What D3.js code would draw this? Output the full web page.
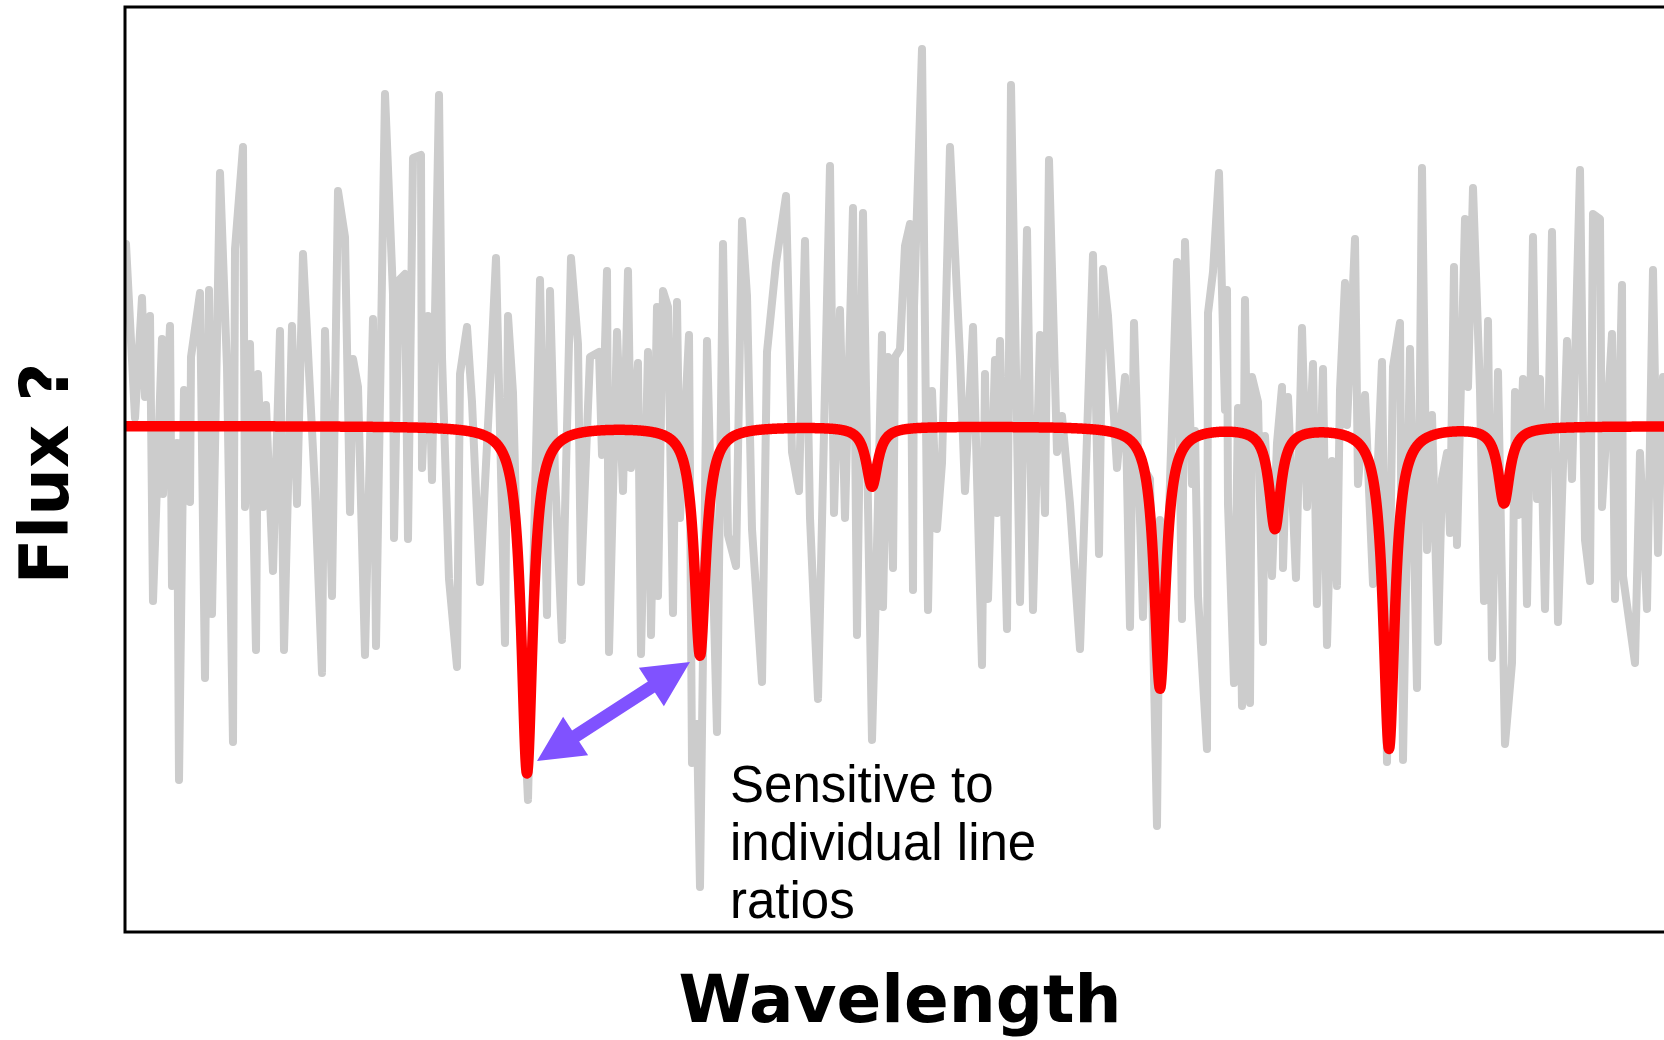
<!DOCTYPE html>
<html>
<head>
<meta charset="utf-8">
<script src="https://cdn.jsdelivr.net/npm/d3@7"></script>
<style>
  body { margin: 0; background: #fff; }
  svg { display: block; }
</style>
</head>
<body>
<div id="main"></div>
<script>
const ctx = {
    WIDTH: 1664,
    HEIGHT: 1040,
    LEFT: 125,
    TOP: 7,
    RIGHT: 1675,   // frame runs off the right edge of the picture
    BOTTOM: 932,
};

// observed (noisy) spectrum: wavelength in nm, normalised flux
const obsWave = [
    500.1,501.0,501.7,502.0,502.5,502.8,503.7,503.8,504.5,504.7,505.2,505.4,505.9,506.5,506.6,507.5,508.0,508.4,508.7,509.5,
    510.2,510.8,511.0,511.8,512.0,512.5,513.1,513.3,513.8,514.1,514.8,515.5,515.9,516.7,517.2,517.8,519.0,519.7,520.0,520.7,
    521.3,522.0,522.5,522.8,523.3,524.0,
    524.8,525.1,526.0,526.8,526.9,527.4,528.0,528.3,528.8,529.6,529.7,530.3,530.7,531.4,531.7,532.4,533.2,533.5,534.2,534.7,
    535.5,536.6,537.1,538.0,538.3,538.8,539.3,540.3,541.5,542.2,542.5,543.0,543.7,544.6,545.3,545.6,546.5,547.4,547.7,548.2,
    548.4,
    549.2,549.8,550.3,550.6,551.3,551.6,552.3,552.6,553.2,553.3,553.8,554.3,554.8,555.2,555.5,556.4,556.7,557.2,557.5,558.2,
    559.2,559.8,560.3,561.1,561.7,562.2,562.7,563.7,564.2,565.1,566.1,566.7,567.4,568.0,568.5,569.3,570.5,570.9,571.5,572.0,
    572.8,573.2,
    573.8,574.7,575.0,575.7,575.8,576.3,576.8,577.0,577.5,578.0,578.5,578.8,578.9,579.7,580.3,580.7,581.2,581.7,582.5,583.5,
    584.0,584.8,585.7,586.0,586.3,587.0,587.2,587.5,588.2,588.6,589.5,590.2,590.8,591.5,592.0,592.4,593.2,593.7,594.5,595.5,
    596.8,597.4,597.8,598.3,599.2,
    600.0,600.5,600.9,601.8,602.2,602.5,603.2,603.5,604.2,605.2,605.7,606.0,606.7,607.0,607.3,608.2,608.3,608.8,609.4,610.0,
    610.2,610.3,610.9,611.3,611.7,612.0,612.5,612.7,613.3,613.8,614.0,614.7,615.2,615.7,615.8,616.3,617.1,617.7,618.2,618.8,
    619.2,619.8,620.2,620.7,621.2,621.5,622.0,622.2,623.0,623.3,624.0,624.8,625.7,
    626.2,626.8,627.5,627.8,628.5,629.2,629.7,630.2,630.7,631.3,631.7,632.2,632.5,632.9,633.2,634.0,634.3,634.8,635.5,635.9,
    636.3,636.7,637.3,638.0,638.7,639.0,639.3,639.8,640.2,640.8,641.2,641.5,642.0,642.7,643.3,644.2,644.7,645.5,646.0,646.5,
    646.8,647.5,647.7,648.7,649.0,649.7,649.8,651.0,651.5,652.2,652.8,653.3,653.8,654.7
];
const obsFlux = [
    1.364,1.016,1.256,1.058,1.220,0.650,1.174,0.864,1.200,0.680,0.966,0.292,1.072,0.848,1.138,1.266,0.496,1.272,0.624,1.506,
    1.118,0.368,1.354,1.558,0.838,1.164,0.552,1.104,0.838,1.042,0.710,1.190,0.552,1.200,0.844,1.344,0.874,0.506,1.190,0.660,
    1.470,1.378,0.828,1.134,1.078,0.542,
    1.214,0.560,1.664,1.264,0.776,1.292,1.304,0.774,1.536,1.542,0.916,1.220,0.892,1.662,1.138,0.694,0.518,1.104,1.198,1.048,
    0.688,1.120,1.336,0.566,1.220,1.066,0.682,0.252,1.292,0.622,1.270,0.904,0.572,1.336,1.164,0.688,1.138,1.148,0.942,1.310,
    0.548,
    1.188,0.870,1.310,0.916,1.126,0.544,1.148,0.582,1.238,0.660,1.270,1.238,0.626,1.248,0.816,1.182,0.326,0.404,0.078,1.170,
    0.388,1.364,0.782,0.720,1.410,1.260,0.794,0.488,1.148,1.326,1.460,0.948,0.870,1.370,0.816,0.454,1.520,0.826,1.232,0.816,
    1.436,0.582,
    1.426,0.372,0.594,1.182,0.638,1.138,0.716,1.138,1.154,1.360,1.404,0.672,1.238,1.754,0.632,1.070,0.794,0.926,1.558,1.138,
    0.870,1.198,0.522,1.104,0.654,1.132,0.826,1.170,0.594,1.682,0.648,1.392,0.632,1.182,0.826,1.532,0.948,1.020,0.844,0.554,
    1.342,0.744,1.314,1.220,0.916,
    1.098,0.598,1.206,0.618,0.904,0.894,0.200,0.812,0.700,1.328,0.614,1.368,0.884,0.990,0.660,0.354,1.226,1.308,1.506,1.032,
    1.272,0.844,0.486,1.036,0.440,1.252,0.446,1.098,1.048,0.568,0.980,0.700,0.966,1.078,0.716,1.058,0.696,1.196,0.838,1.124,
    0.644,1.114,0.562,0.930,0.680,1.072,1.286,1.002,1.374,0.884,1.062,0.684,1.128,
    0.328,1.118,1.206,0.332,1.154,0.476,1.516,0.752,1.022,0.568,0.894,0.946,0.786,1.318,0.762,1.414,1.078,1.476,1.072,0.650,
    1.210,0.536,1.108,0.364,0.526,1.068,0.822,1.094,0.644,1.378,0.854,1.094,0.634,1.388,0.608,1.170,0.894,1.512,0.772,0.690,
    1.424,1.414,0.838,1.184,0.654,1.282,0.700,0.526,0.946,0.634,1.312,0.746,1.098,0.852
];

// model absorption lines (Lorentzian profiles on a flat continuum)
const lineCenters = [540.2, 557.5, 574.7, 603.5, 615.0, 626.4, 637.9];
const lineDepths  = [0.694, 0.458, 0.120, 0.524, 0.202, 0.644, 0.152];
const lineHWHM = 0.7;
const continuum = 1.0;

const waveDomain = [500, 655];
const fluxDomain = [-0.012, 1.838];

const xLabel = "Wavelength";
const yLabel = "Flux ?";
const noteLines = ["Sensitive to", "individual line", "ratios"];
const notePos = [560.5, 0.248];
// double arrow between the two line cores (nm, flux)
const arrowEnds = [[541.2, 0.330], [556.5, 0.528]];

function modelFlux(w){
    let f = continuum;
    lineCenters.forEach((c, i) => {
        const u = (w - c) / lineHWHM;
        f -= lineDepths[i] / (1 + u * u);
    });
    return f;
}

function arrowPath(p0, p1, shaft, headLen, headHalf){
    const dx = p1[0] - p0[0], dy = p1[1] - p0[1];
    const len = Math.sqrt(dx * dx + dy * dy);
    const ux = dx / len, uy = dy / len;
    const nx = -uy, ny = ux;
    const b0 = [p0[0] + ux * headLen, p0[1] + uy * headLen];
    const b1 = [p1[0] - ux * headLen, p1[1] - uy * headLen];
    const pt = (b, s) => [b[0] + nx * s, b[1] + ny * s];
    const pts = [p0, pt(b0, headHalf), pt(b0, shaft / 2), pt(b1, shaft / 2), pt(b1, headHalf),
                 p1, pt(b1, -headHalf), pt(b1, -shaft / 2), pt(b0, -shaft / 2), pt(b0, -headHalf)];
    return "M" + pts.map(p => p[0] + "," + p[1]).join("L") + "Z";
}

function createViz(){
    const svg = d3.select("#main").append("svg")
        .attr("width", ctx.WIDTH)
        .attr("height", ctx.HEIGHT);

    const x = d3.scaleLinear().domain(waveDomain).range([ctx.LEFT, ctx.RIGHT]);
    const y = d3.scaleLinear().domain(fluxDomain).range([ctx.BOTTOM, ctx.TOP]);

    svg.append("clipPath").attr("id", "plotClip")
        .append("rect")
        .attr("x", ctx.LEFT).attr("y", ctx.TOP)
        .attr("width", ctx.RIGHT - ctx.LEFT).attr("height", ctx.BOTTOM - ctx.TOP);

    const plotG = svg.append("g").attr("clip-path", "url(#plotClip)");

    // noisy data
    const obs = obsWave.map((w, i) => ({w: w, f: obsFlux[i]}));
    plotG.append("path")
        .datum(obs)
        .attr("fill", "none")
        .attr("stroke", "#cccccc")
        .attr("stroke-width", 8)
        .attr("stroke-linejoin", "round")
        .attr("stroke-linecap", "round")
        .attr("d", d3.line().x(d => x(d.w)).y(d => y(d.f)));

    // model
    const model = d3.range(waveDomain[0], waveDomain[1] + 0.001, 0.05).map(w => ({w: w, f: modelFlux(w)}));
    plotG.append("path")
        .datum(model)
        .attr("fill", "none")
        .attr("stroke", "#ff0000")
        .attr("stroke-width", 10.5)
        .attr("stroke-linejoin", "round")
        .attr("stroke-linecap", "round")
        .attr("d", d3.line().x(d => x(d.w)).y(d => y(d.f)));

    // arrow + note
    const a0 = [x(arrowEnds[0][0]), y(arrowEnds[0][1])];
    const a1 = [x(arrowEnds[1][0]), y(arrowEnds[1][1])];
    svg.append("path")
        .attr("d", arrowPath(a0, a1, 13, 46, 23))
        .attr("fill", "#8052ff");

    svg.append("text")
        .attr("x", x(notePos[0]))
        .attr("y", y(notePos[1]))
        .attr("font-family", "'Liberation Sans', Arial, sans-serif")
        .attr("font-size", 51)
        .attr("fill", "#000")
        .selectAll("tspan")
        .data(noteLines)
        .enter()
        .append("tspan")
        .attr("x", x(notePos[0]))
        .attr("dy", (d, i) => i === 0 ? 0 : 58)
        .text(d => d);

    // frame
    svg.append("rect")
        .attr("x", ctx.LEFT).attr("y", ctx.TOP)
        .attr("width", ctx.RIGHT - ctx.LEFT).attr("height", ctx.BOTTOM - ctx.TOP)
        .attr("fill", "none")
        .attr("stroke", "#000")
        .attr("stroke-width", 3);

    // axis labels
    svg.append("text")
        .attr("x", (ctx.LEFT + ctx.RIGHT) / 2)
        .attr("y", 1022)
        .attr("text-anchor", "middle")
        .attr("font-family", "'DejaVu Sans', sans-serif")
        .attr("font-weight", "bold")
        .attr("font-size", 66)
        .text(xLabel);

    svg.append("text")
        .attr("transform", "translate(68," + ((ctx.TOP + ctx.BOTTOM) / 2 + 4) + ") rotate(-90)")
        .attr("text-anchor", "middle")
        .attr("font-family", "'DejaVu Sans', sans-serif")
        .attr("font-weight", "bold")
        .attr("font-size", 67)
        .text(yLabel);
}

createViz();
</script>
</body>
</html>
